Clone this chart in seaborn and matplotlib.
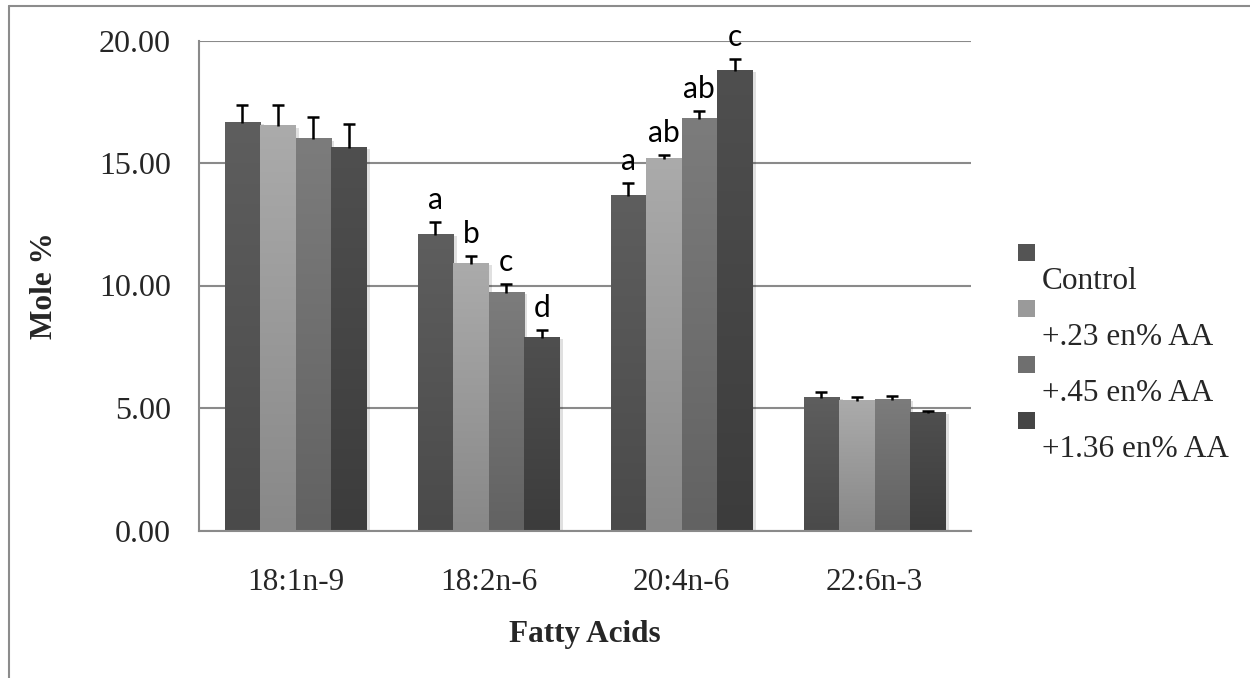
import numpy as np
import pandas as pd
import matplotlib
matplotlib.use("Agg")
import matplotlib.pyplot as plt
import seaborn as sns
from matplotlib.lines import Line2D
from matplotlib.patches import Rectangle
from matplotlib.colors import LinearSegmentedColormap
import matplotlib.patheffects as pe

# ---- data -------------------------------------------------------------
fatty_acids = ["18:1n-9", "18:2n-6", "20:4n-6", "22:6n-3"]
diets = ["Control", "+.23 en% AA", "+.45 en% AA", "+1.36 en% AA"]

control = [16.65, 12.06, 13.65, 5.41]
aa_023 = [16.49, 10.88, 15.16, 5.29]
aa_045 = [15.96, 9.69, 16.80, 5.33]
aa_136 = [15.62, 7.86, 18.76, 4.80]

control_err = [0.70, 0.54, 0.52, 0.23]
aa_023_err = [0.87, 0.32, 0.17, 0.16]
aa_045_err = [0.91, 0.36, 0.32, 0.16]
aa_136_err = [0.96, 0.32, 0.48, 0.08]

control_sig = ["", "a", "a", ""]
aa_023_sig = ["", "b", "ab", ""]
aa_045_sig = ["", "c", "ab", ""]
aa_136_sig = ["", "d", "c", ""]

y_ticks = [0, 5, 10, 15, 20]

# ---- styling ------------------------------------------------------------
top_colors = ["#5e5e5e", "#ababab", "#7c7c7c", "#4f4f4f"]
bottom_colors = ["#4a4a4a", "#888888", "#626262", "#3c3c3c"]
mid_colors = ["#545454", "#9a9a9a", "#6f6f6f", "#454545"]
grid_gray = "#8a8a8a"

sns.set_style("white")
plt.rcParams["font.family"] = ["Liberation Serif", "DejaVu Serif"]
FS = 22.5

values = [control, aa_023, aa_045, aa_136]
errors = [control_err, aa_023_err, aa_045_err, aa_136_err]
sig = [control_sig, aa_023_sig, aa_045_sig, aa_136_sig]

df = pd.DataFrame({
    "acid": np.tile(fatty_acids, len(diets)),
    "diet": np.repeat(diets, len(fatty_acids)),
    "mole": np.concatenate(values),
})

W, H = 1250, 678
fig = plt.figure(figsize=(W / 100, H / 100), dpi=100)
ax = fig.add_axes([199 / W, 1 - 530.5 / H, 772 / W, 490 / H])

sns.barplot(data=df, x="acid", y="mole", hue="diet", order=fatty_acids,
            hue_order=diets, palette=mid_colors, width=0.735, gap=0,
            errorbar=None, legend=False, ax=ax, zorder=2, linewidth=0)

bar_groups = list(ax.containers)

# vertical gradient fill + soft shadow for each bar, then upper error bars
for i, container in enumerate(bar_groups):
    cmap = LinearSegmentedColormap.from_list(
        f"g{i}", [bottom_colors[i], top_colors[i]])
    xs, tops = [], []
    for bar in container:
        x0, w, h = bar.get_x(), bar.get_width(), bar.get_height()
        bar.set_path_effects([pe.SimplePatchShadow(offset=(2.5, -1), alpha=0.12,
                                                   shadow_rgbFace="black"),
                              pe.Normal()])
        grad = np.linspace(0, 1, 256).reshape(-1, 1)
        ax.imshow(grad, extent=[x0, x0 + w, 0, h], origin="lower",
                  aspect="auto", cmap=cmap, zorder=2.5, interpolation="bicubic")
        xs.append(x0 + w / 2)
        tops.append(h)
    _, caps, _ = ax.errorbar(xs, tops, yerr=[np.zeros(len(tops)), errors[i]],
                             fmt="none", ecolor="black", elinewidth=1.8,
                             capsize=4.3, capthick=1.8, zorder=4)
    caps[0].set_visible(False)  # only the upper cap is shown
    for x, t, e, s in zip(xs, tops, errors[i], sig[i]):
        if s:
            ax.annotate(s, (x, t + e), xytext=(0, 9.5), textcoords="offset points",
                        ha="center", va="baseline", fontsize=21.5,
                        family=["Lato", "DejaVu Sans"], color="black", zorder=5)

# ---- axes ---------------------------------------------------------------
ax.set_xlim(-0.5, 3.5)
ax.set_ylim(0, 20)
ax.set_yticks(y_ticks)
ax.set_yticklabels([f"{v:.2f}" for v in y_ticks], fontsize=23)
ax.set_xticks(range(len(fatty_acids)))
ax.set_xticklabels(fatty_acids, fontsize=FS)
ax.set_xticks(np.arange(-0.5, 4.0, 1.0), minor=True)
ax.tick_params(axis="x", which="major", length=0, pad=27)
ax.tick_params(axis="x", which="minor", length=6.5, width=1.4, color=grid_gray)
ax.tick_params(axis="y", length=7.2, width=1.4, color=grid_gray, pad=13)

ax.set_axisbelow(True)
ax.yaxis.grid(True, color=grid_gray, linewidth=1.5)
ax.xaxis.grid(False)
for side in ["top", "right"]:
    ax.spines[side].set_visible(False)
for side in ["left", "bottom"]:
    ax.spines[side].set_color(grid_gray)
    ax.spines[side].set_linewidth(1.5)

ax.set_xlabel("Fatty Acids", fontsize=FS, fontweight="bold")
ax.xaxis.set_label_coords(0.5, -0.182)
ax.set_ylabel("Mole %", fontsize=FS, fontweight="bold")
ax.yaxis.set_label_coords(-0.181, 0.5)

# ---- legend (marker above each label) -----------------------------------
sq = 17
for k, name in enumerate(diets):
    cy = 252.5 + 56 * k
    fig.patches.append(Rectangle((1018 / W, 1 - (cy + sq / 2) / H), sq / W, sq / H,
                                 transform=fig.transFigure, facecolor=mid_colors[k],
                                 edgecolor="none"))
    fig.text(1042 / W, 1 - (289 + 56 * k) / H, name, fontsize=FS,
             ha="left", va="baseline")

# outer frame (top and left edges)
frame_kw = dict(color="#8c8c8c", linewidth=1.5, transform=fig.transFigure)
fig.lines.append(Line2D([9 / W, 1], [1 - 6 / H, 1 - 6 / H], **frame_kw))
fig.lines.append(Line2D([9 / W, 9 / W], [0, 1 - 6 / H], **frame_kw))

fig.savefig("out.png", dpi=100, facecolor="white")
